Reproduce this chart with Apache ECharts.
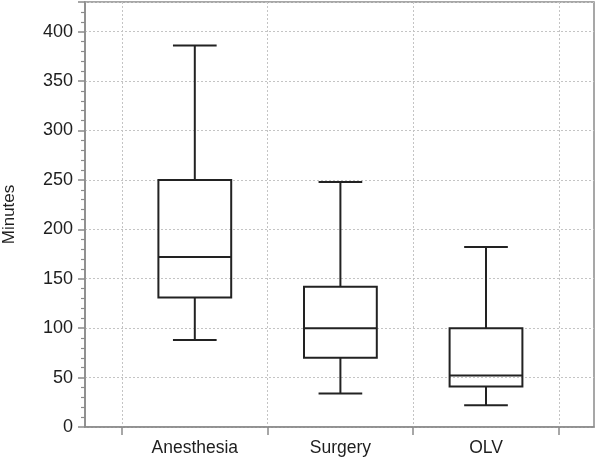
<!DOCTYPE html>
<html><head><meta charset="utf-8">
<script src="https://cdn.jsdelivr.net/npm/echarts@6/dist/echarts.min.js"></script>
<style>html,body{margin:0;padding:0;background:#fff}#c{width:597px;height:460px}</style>
</head><body><div id="c"></div>
<script>
const categories = ['Anesthesia', 'Surgery', 'OLV'];
const whiskerLow = [88, 34, 22];
const q1 = [131, 70, 41];
const median = [172, 100, 52];
const q3 = [250, 142, 100];
const whiskerHigh = [386, 248, 182];
const yTicks = [0, 50, 100, 150, 200, 250, 300, 350, 400];

const boxData = categories.map((c, i) => [i, whiskerLow[i], q1[i], median[i], q3[i], whiskerHigh[i]]);
const chart = echarts.init(document.getElementById('c'));
const lineStyle = {stroke: '#222', lineWidth: 2, fill: null};
const font = 'Liberation Sans, Arial, sans-serif';
chart.setOption({
  animation: false,
  grid: [
    {left: 85, right: 3, top: 2, bottom: 33, outerBoundsMode: 'none', containLabel: false, show: true, borderColor: '#8a8a8a', borderWidth: 1.5, backgroundColor: 'transparent'},
    {left: 122, right: 38.2, top: 2, bottom: 33, outerBoundsMode: 'none', containLabel: false}
  ],
  xAxis: [
    {gridIndex: 0, type: 'value', min: 0, max: 1, axisLine: {show: true, lineStyle: {color: '#8a8a8a', width: 1.5}}, axisTick: {show: false}, axisLabel: {show: false}, splitLine: {show: false}},
    {gridIndex: 1, type: 'category', data: categories, boundaryGap: true,
      axisLine: {show: false},
      axisTick: {show: true, length: 8, lineStyle: {color: '#8a8a8a', width: 1.5}},
      axisLabel: {color: '#1e1e1e', fontSize: 17.5, fontFamily: font, margin: 12},
      splitLine: {show: true, lineStyle: {color: '#c4c4c4', type: [2, 2], width: 1}}}
  ],
  yAxis: [
    {gridIndex: 0, type: 'value', min: 0, max: 430, interval: 50,
      name: 'Minutes', nameLocation: 'middle', nameGap: 67, nameRotate: 90,
      nameTextStyle: {color: '#1e1e1e', fontSize: 17, fontFamily: font},
      axisLine: {show: true, lineStyle: {color: '#8a8a8a', width: 1.5}},
      axisTick: {show: true, length: 7, lineStyle: {color: '#8a8a8a', width: 1.5}},
      minorTick: {show: true, splitNumber: 5, length: 4, lineStyle: {color: '#8a8a8a', width: 1.2}},
      axisLabel: {color: '#1e1e1e', fontSize: 18, fontFamily: font, margin: 12,
        formatter: v => yTicks.includes(v) ? String(v) : ''},
      splitLine: {show: true, lineStyle: {color: '#c4c4c4', type: [2, 2], width: 1}}},
    {gridIndex: 1, type: 'value', min: 0, max: 430, interval: 50, show: false, splitLine: {show: false}}
  ],
  series: [{
    type: 'custom', xAxisIndex: 1, yAxisIndex: 1, data: boxData,
    encode: {x: 0, y: [1, 2, 3, 4, 5]},
    renderItem: function (params, api) {
      const x = api.value(0);
      const band = api.size([1, 0])[0];
      const half = band * 0.25;
      const cap = band * 0.15;
      const pLow = api.coord([x, api.value(1)]);
      const pQ1 = api.coord([x, api.value(2)]);
      const pMed = api.coord([x, api.value(3)]);
      const pQ3 = api.coord([x, api.value(4)]);
      const pHigh = api.coord([x, api.value(5)]);
      const cx = pQ1[0];
      return {type: 'group', children: [
        {type: 'rect', shape: {x: cx - half, y: pQ3[1], width: 2 * half, height: pQ1[1] - pQ3[1]}, style: lineStyle},
        {type: 'line', shape: {x1: cx - half, y1: pMed[1], x2: cx + half, y2: pMed[1]}, style: lineStyle},
        {type: 'line', shape: {x1: cx, y1: pQ3[1], x2: cx, y2: pHigh[1]}, style: lineStyle},
        {type: 'line', shape: {x1: cx, y1: pQ1[1], x2: cx, y2: pLow[1]}, style: lineStyle},
        {type: 'line', shape: {x1: cx - cap, y1: pHigh[1], x2: cx + cap, y2: pHigh[1]}, style: lineStyle},
        {type: 'line', shape: {x1: cx - cap, y1: pLow[1], x2: cx + cap, y2: pLow[1]}, style: lineStyle}
      ]};
    }
  }]
});
</script></body></html>
